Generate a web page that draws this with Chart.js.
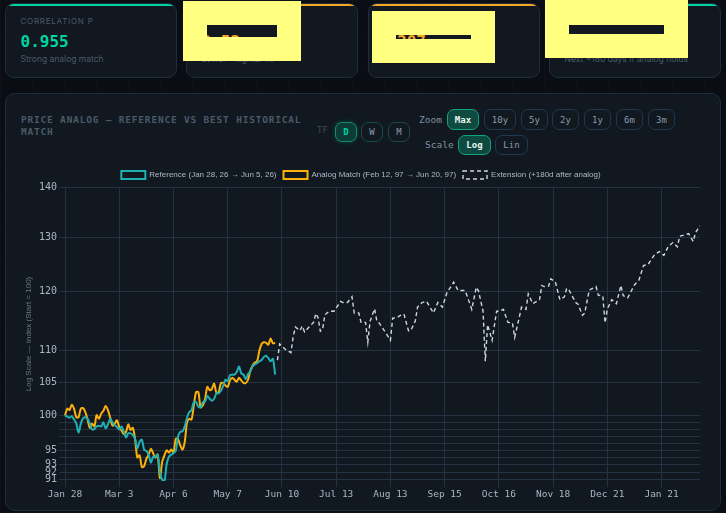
<!DOCTYPE html>
<html><head><meta charset="utf-8">
<script src="https://cdn.jsdelivr.net/npm/chart.js@4/dist/chart.umd.js"></script>
<style>
html,body{margin:0;padding:0;width:726px;height:513px;overflow:hidden;background:#0a0d13;}
body{position:relative;background-image:linear-gradient(rgba(255,255,255,.012) 1px,transparent 1px),linear-gradient(90deg,rgba(255,255,255,.012) 1px,transparent 1px);background-size:32px 32px;font-family:Inter,sans-serif;}
.abs{position:absolute;white-space:nowrap;}
.card{position:absolute;top:3px;height:73px;background:#111820;border:1px solid #1e2d3d;border-radius:9px;overflow:hidden;box-sizing:content-box;}
.card i{position:absolute;left:0;right:0;top:0;height:2px;display:block;}
.mono{font-family:"DejaVu Sans Mono",monospace;}
.btn{position:absolute;box-sizing:border-box;border:1px solid #1c3a50;border-radius:7px;color:#8a9aaa;font:9px "DejaVu Sans Mono",monospace;display:flex;align-items:center;justify-content:center;}
.on{background:#0e4a40;border-color:#10a37f;color:#e6f7f1;font-weight:bold;}
#chart{position:absolute;left:0;top:0;}
</style></head><body>
<script>
const tickLabels = ['Jan 28','Mar 3','Apr 6','May 7','Jun 10','Jul 13','Aug 13','Sep 15','Oct 16','Nov 18','Dec 21','Jan 21'];
const yTickValues = [91,92,93,94,95,96,97,98,99,100,105,110,120,130,140];
const yTickShown = [91,92,93,95,100,105,110,120,130,140];
const referenceValues = [100,99.85,99.66,99.9,99.4,98.8,97.5,98.8,99.6,99.75,99.5,98.8,97.96,98,98.4,98.5,98.4,99,98.1,98.7,99.5,99,98.6,98.3,97.96,98.4,97.7,96.8,97.4,97.4,97.2,96.6,95.3,96.2,96.5,95.1,94.9,94.4,93.3,94.1,94.1,94.4,92,90.96,90.8,93.1,94.1,94.4,94.6,94.9,96.9,97.6,97.7,98.4,99.66,100.5,100.8,102,102,101.3,101.2,102,102.1,102.9,102.5,102.2,102.5,103.3,103.3,103.7,104.5,105.4,105.2,106.1,106.2,106.2,106.6,107.5,106.4,106.2,105.5,106.3,106.7,107.5,107.8,108,108.3,108.5,109,109.2,108.8,108.3,108.7,106.2];
const analogValues = [100,101,100.8,101.6,101,99.75,99.75,101,101.1,100.5,99.4,98.2,98.8,98.4,100.05,99.5,100.25,100.7,101.4,100.8,99.66,98.5,98.8,99.3,98.3,97.8,97.3,97.6,98.7,97.9,98.2,96.6,94,94.3,92.7,92.8,93.8,94.4,95.2,94.6,93.95,94.4,91.2,93.4,94.3,95,94.7,95.1,94.7,96.6,96.6,95.7,95.1,96.2,99,99.5,99.4,101.5,103.5,103.5,101.2,101.5,102.5,104.3,103.8,104,104.8,103.4,103.5,104.9,104.9,104.5,104.3,105.3,105.7,105.4,105.1,105.7,105.3,104.9,104.9,105.4,106.8,107.6,108.1,108.3,110,111.1,111.4,111.3,111,112,111.2,111.3];
const extensionDays = [94,95,97,98,100,101,102,104,105,106,108,110,111,112,113,114,115,117,119,122,123,125,127,128,130,131,133,134,135,137,138,139,142,144,145,147,148,150,152,153,155,156,158,160,163,165,167,169,172,174,177,178,180,182,183,185,186,187,189,191,192,194,196,198,199,201,202,204,205,207,210,211,212,214,215,217,219,221,222,223,226,227,229,230,232,235,236,238,239,240,242,244,246,247,249,252,254,256,258,261,263,265,267,269,271,272,276,278,279,281];
const extensionValues = [108.5,111.1,110.4,110.05,109.7,112.4,113.9,113.3,114.1,113.1,113.9,114.7,116.2,115.5,113.2,113.5,116,116.6,116.6,118.3,118.1,118.1,119.1,116.3,116.3,114.7,114.7,111.4,114.9,117,114.9,114.6,112.9,111.7,115.4,115.5,115.8,116.1,113.3,113.3,114.9,117.3,118.1,118.3,116.3,118.1,117.3,119.8,121.7,120.2,120.2,119.2,116.9,120.8,120.1,116.6,108.3,114.3,111.7,116.6,116.6,116.9,114.7,114.6,112.2,115.5,117.3,116.9,119.6,117.9,118.6,121.1,120.9,121,122.3,121.7,118.6,119.1,120.6,120.3,118.1,117.8,115.9,116.3,120.3,120.9,119.4,119.2,114.6,117,118.6,117.9,121.1,119.3,118.9,121.2,122.1,124.7,124.9,126.8,127.3,126.6,128.3,129,128.2,130.2,130.7,129.2,130.9,132.2];
const categoryCount = 282;
const tickStep = 24;

function el(cls,css,text){const d=document.createElement('div');d.className=cls;d.style.cssText=css;if(text)d.textContent=text;document.body.appendChild(d);return d;}
const cards=[[5,'#00d4a0','CORRELATION P','0.955','Strong analog match','#00d4a0',14.5],[186,'#f5a623','','0.52','Lower = tighter fit','#f5a623',14.5],[368,'#f5a623','','307','','#f5a623',28],[549,'#00d4a0','','','Next ~180 days if analog holds','#00d4a0',14.5]];
cards.forEach(c=>{
 const k=el('card',`left:${c[0]}px;width:170px;`);
 const bar=document.createElement('i');bar.style.background=c[1];k.appendChild(bar);
 const a=(t,css)=>{const d=document.createElement('div');d.className='abs';d.style.cssText=css;d.textContent=t;k.appendChild(d);};
 a(c[2],`left:14.5px;top:12px;font-size:8px;letter-spacing:.75px;color:#4a5a6a;`);
 a(c[3],`left:${c[6]}px;top:28px;font:bold 16px "DejaVu Sans Mono",monospace;color:${c[5]};`);
 a(c[4],`left:14.5px;top:50px;font-size:8.5px;color:#4a5a6a;`);
});
[[183,1,118,60,207,25,70,12],[372,11,123,52,396,35,75,4],[545,0,143,58,569,25,95,9]].forEach(r=>{
 const y=el('abs',`left:${r[0]}px;top:${r[1]}px;width:${r[2]}px;height:${r[3]}px;background:#ffff80;`);
 y.style.clipPath=`polygon(0 0,100% 0,100% 100%,0 100%,0 ${r[5]-r[1]}px,${r[4]-r[0]}px ${r[5]-r[1]}px,${r[4]-r[0]}px ${r[5]-r[1]+r[7]}px,${r[4]-r[0]+r[6]}px ${r[5]-r[1]+r[7]}px,${r[4]-r[0]+r[6]}px ${r[5]-r[1]}px,0 ${r[5]-r[1]}px)`;
});
el('abs','left:5px;top:93px;width:716px;height:418px;box-sizing:border-box;background:#111820;border:1px solid #1e2d3d;border-radius:10px;');
el('abs mono','left:21px;top:114px;width:290px;white-space:normal;font-weight:bold;font-size:9.5px;line-height:12px;letter-spacing:.8px;color:#4a5a68;','PRICE ANALOG — REFERENCE VS BEST HISTORICAL MATCH');
el('abs mono','left:317px;top:125px;font-size:9px;color:#3a4a5a;','TF');
el('abs mono','left:419px;top:114px;font-size:9.5px;color:#8090a0;','Zoom');
el('abs mono','left:425px;top:139px;font-size:9.5px;color:#8090a0;','Scale');
el('btn','left:335px;top:122px;width:22px;height:20px;background:#0d3b36;border-color:#0f8f6c;color:#00d4a0;font-weight:bold;box-shadow:0 0 5px rgba(0,212,160,.25);','D');
el('btn','left:361px;top:122px;width:22px;height:20px;border-color:#1a4a44;','W');
el('btn','left:388px;top:122px;width:22px;height:20px;border-color:#1a4a44;','M');
[['Max',447,32,1],['10y',484,32,0],['5y',521,27,0],['2y',552,27,0],['1y',584,27,0],['6m',616,27,0],['3m',648,27,0]].forEach(b=>el('btn'+(b[3]?' on':''),`left:${b[1]}px;top:109px;width:${b[2]}px;height:21px;`,b[0]));
[['Log',458,33,1],['Lin',495,33,0]].forEach(b=>el('btn'+(b[3]?' on':''),`left:${b[1]}px;top:135px;width:${b[2]}px;height:20px;`,b[0]));
const cv=document.createElement('canvas');cv.id='chart';cv.width=726;cv.height=513;cv.style.width='726px';cv.style.height='513px';document.body.appendChild(cv);

const extension=new Array(categoryCount).fill(null);
extensionDays.forEach((d,i)=>{extension[d]=extensionValues[i];});
const categories=Array.from({length:categoryCount},(_,i)=>i);
const legendHeight={id:'legendHeight',beforeInit(chart){const l=chart.legend;const f=l.fit;l.fit=function(){f.call(this);this.height=23;};}};

new Chart(cv,{type:'line',plugins:[legendHeight],data:{labels:categories,datasets:[
 {label:'Reference (Jan 28, 26 → Jun 5, 26)',data:referenceValues,borderColor:'#1fb0b4',backgroundColor:'transparent',borderWidth:2,pointRadius:0,tension:.3},
 {label:'Analog Match (Feb 12, 97 → Jun 20, 97)',data:analogValues,borderColor:'#fbb00a',backgroundColor:'transparent',borderWidth:2,pointRadius:0,tension:.3},
 {label:'Extension (+180d after analog)',data:extension,borderColor:'#cfd6df',backgroundColor:'transparent',borderWidth:1.4,borderDash:[4,3],pointRadius:0,tension:0,spanGaps:true}
]},options:{responsive:false,animation:false,devicePixelRatio:1,
 layout:{padding:{top:164,right:26,bottom:0,left:22}},
 plugins:{tooltip:{enabled:false},legend:{display:true,position:'top',labels:{boxWidth:24,boxHeight:8,padding:7,color:'#aeb9c7',font:{family:'Liberation Sans',size:8}}}},
 scales:{
  x:{type:'category',offset:false,grid:{color:'#243241',lineWidth:1,tickLength:6},border:{display:false},
   ticks:{autoSkip:false,maxRotation:0,minRotation:0,padding:2,color:'#aab6c4',font:{family:'DejaVu Sans Mono',size:9.5},callback:(v,i)=>i%tickStep===0?tickLabels[i/tickStep]:null},
   afterFit:s=>{s.height=32;}},
  y:{type:'logarithmic',min:90.8,max:140,grid:{color:'#243241',lineWidth:1,tickLength:6},border:{display:false},
   title:{display:true,text:'Log Scale — Index (Start = 100)',color:'#6a7886',font:{family:'Liberation Sans',size:8},padding:{top:2,bottom:0}},
   afterBuildTicks:s=>{s.ticks=yTickValues.map(v=>({value:v}));},
   ticks:{autoSkip:false,padding:2,color:'#aab6c4',font:{family:'DejaVu Sans Mono',size:10},callback:v=>yTickShown.includes(v)?String(v):''},
   afterFit:s=>{s.width=43;}}
 }}});
</script>
</body></html>
